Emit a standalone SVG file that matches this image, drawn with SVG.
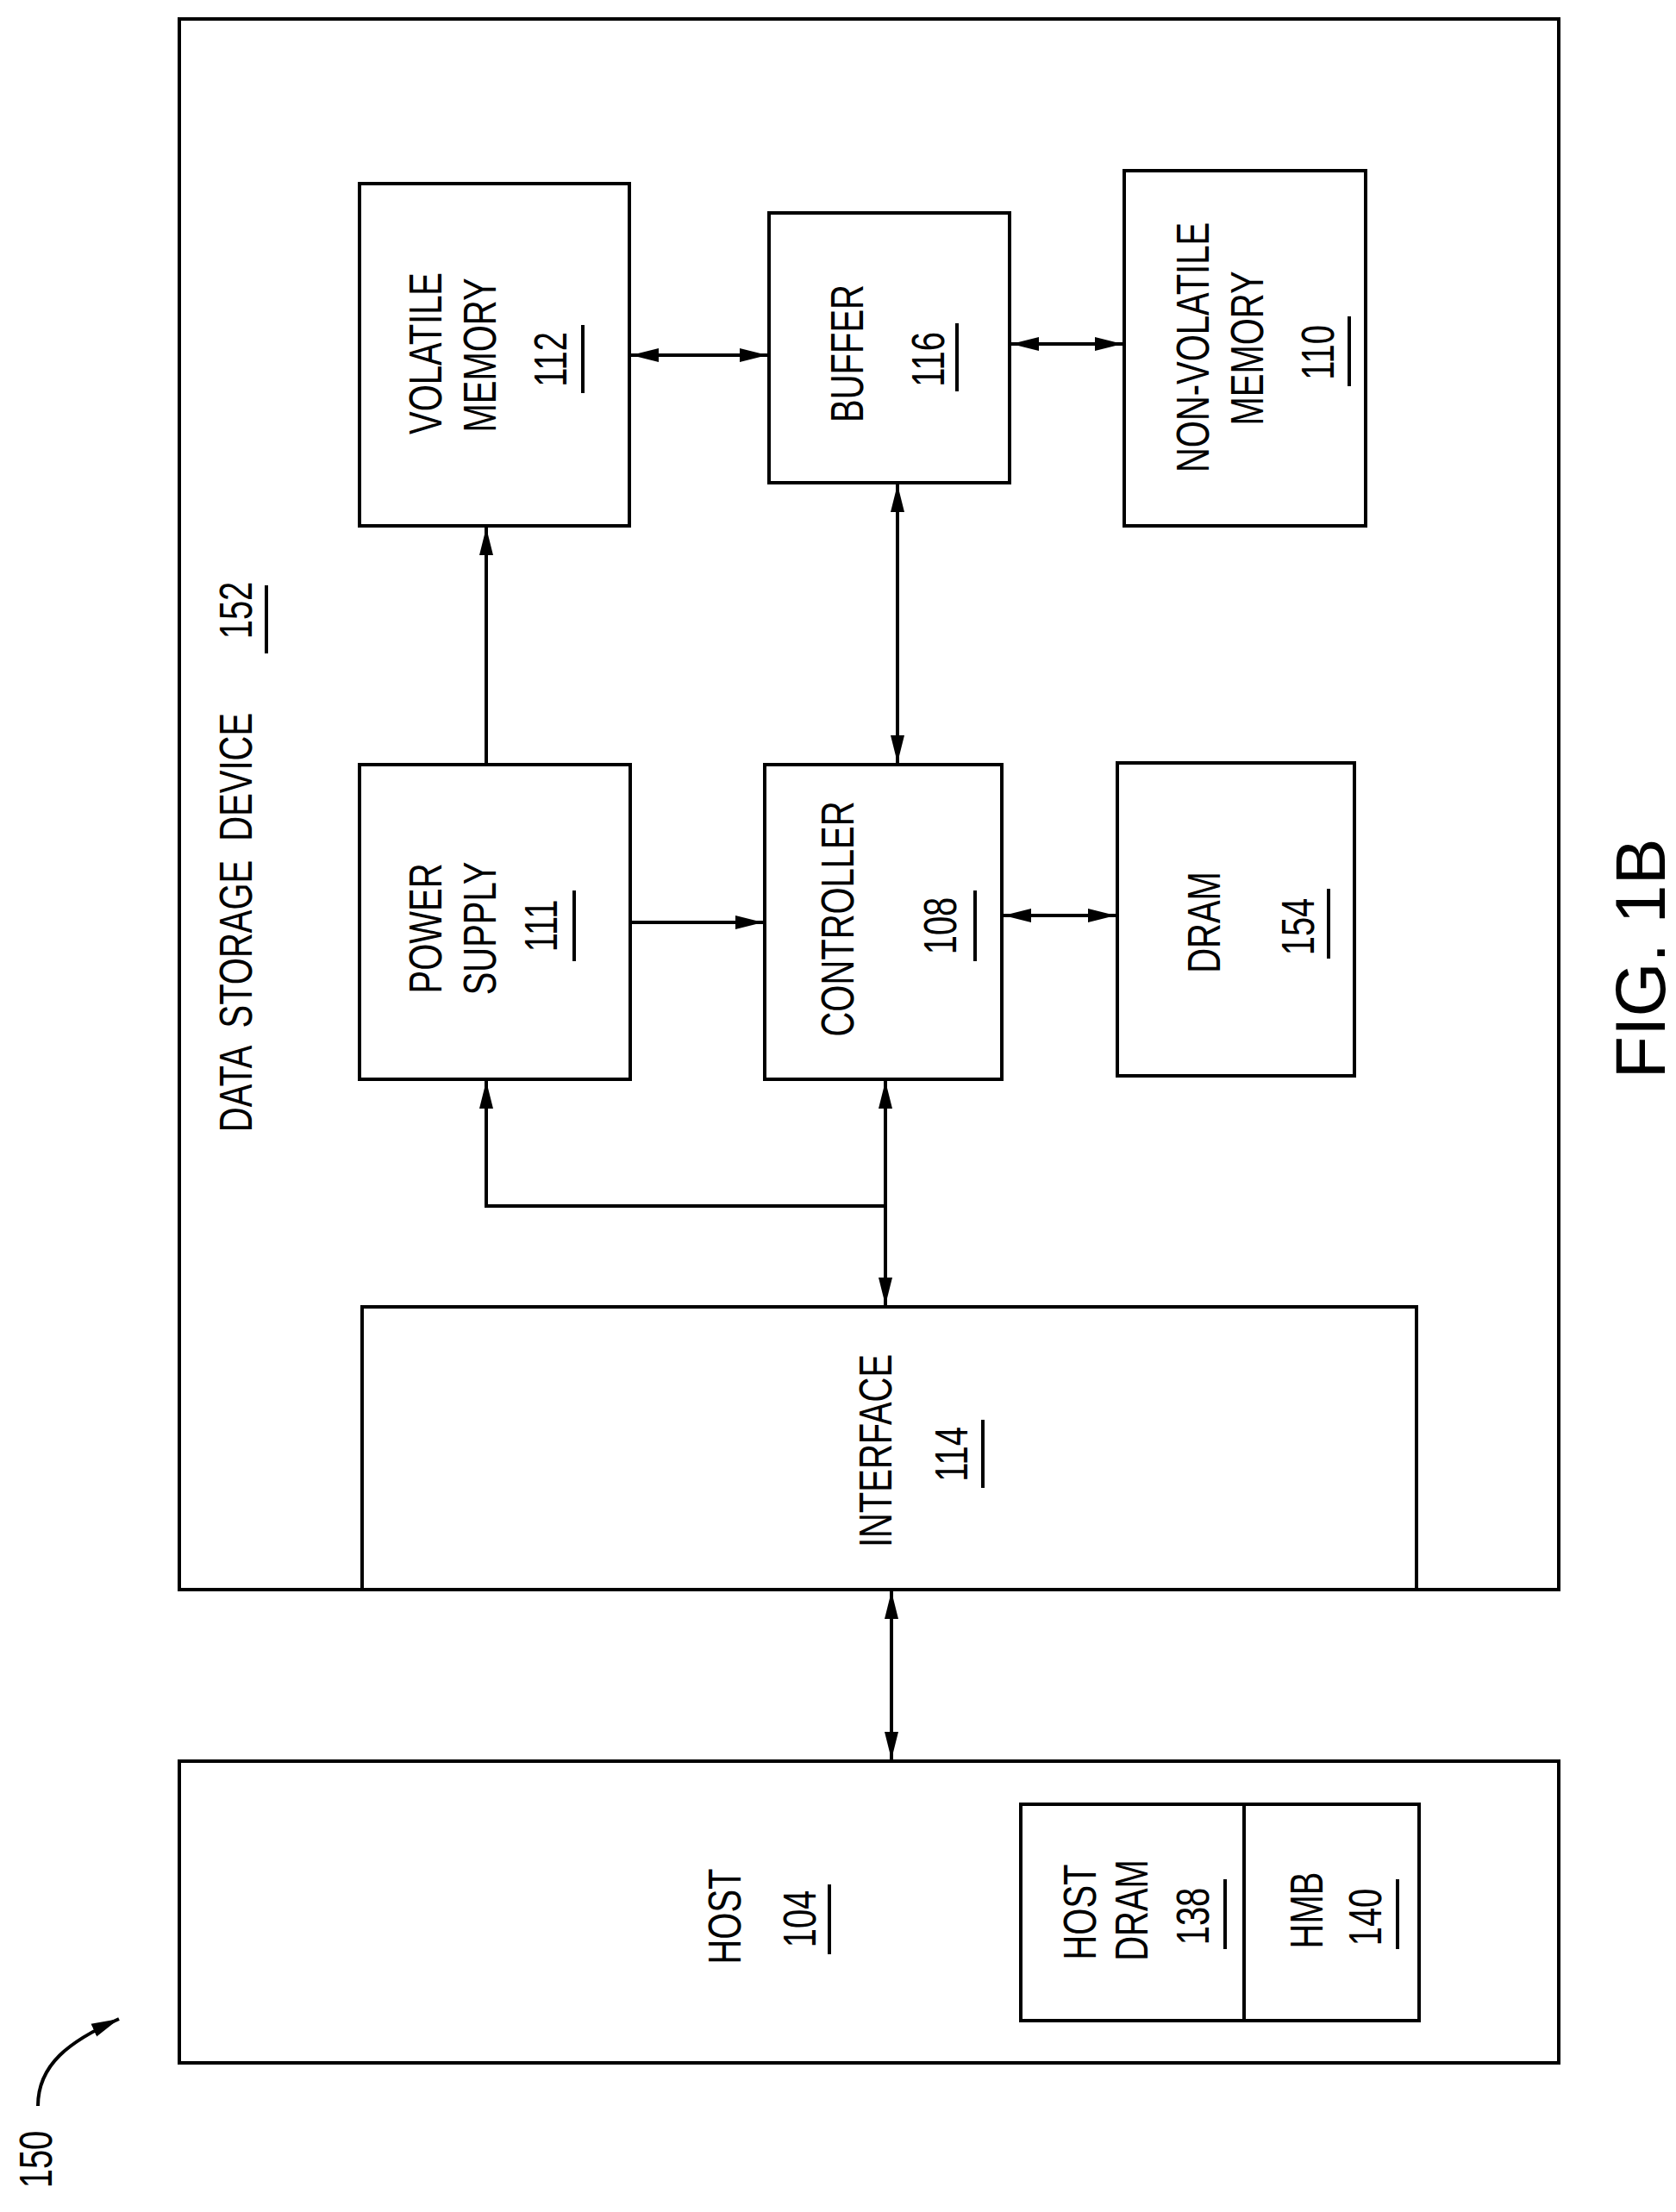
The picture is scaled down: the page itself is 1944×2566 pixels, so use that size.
<svg xmlns="http://www.w3.org/2000/svg" width="1944" height="2566" viewBox="0 0 1944 2566">
<style>
.b{fill:none;stroke:#000;stroke-width:4}
.c{fill:none;stroke:#000;stroke-width:4}
.t{font-family:"Liberation Sans",Arial,sans-serif;font-size:54px;text-anchor:middle;fill:#000}
.u{stroke:#000;stroke-width:4}
</style>
<defs>
<marker id="a" markerUnits="userSpaceOnUse" markerWidth="34" markerHeight="20" refX="32" refY="10" orient="auto-start-reverse" viewBox="0 0 34 20"><path d="M0 2 L32 10 L0 18 Z" fill="#000"/></marker>
</defs>
<rect width="1944" height="2566" fill="#fff"/>
<g id="device"><rect class="b" x="208" y="22" width="1600" height="1822"/>
<text class="t" transform="translate(292,1070) rotate(-90) scale(0.74,1)" xml:space="preserve">DATA  STORAGE  DEVICE</text>
<text class="t" transform="translate(292,708) rotate(-90) scale(0.74,1)">152</text><line class="u" x1="309" y1="679" x2="309" y2="758"/></g>
<g id="volatile"><rect class="b" x="417" y="213" width="313" height="397"/>
<text class="t" transform="translate(512,410) rotate(-90) scale(0.74,1)">VOLATILE</text>
<text class="t" transform="translate(575,412) rotate(-90) scale(0.74,1)">MEMORY</text>
<text class="t" transform="translate(657,417) rotate(-90) scale(0.74,1)">112</text><line class="u" x1="676" y1="377" x2="676" y2="456"/></g>
<g id="buffer"><rect class="b" x="892" y="247" width="279" height="313"/>
<text class="t" transform="translate(1001,410) rotate(-90) scale(0.74,1)">BUFFER</text>
<text class="t" transform="translate(1095,417) rotate(-90) scale(0.74,1)">116</text><line class="u" x1="1110" y1="375" x2="1110" y2="454"/></g>
<g id="nonvolatile"><rect class="b" x="1304" y="198" width="280" height="412"/>
<text class="t" transform="translate(1402,403) rotate(-90) scale(0.74,1)">NON-VOLATILE</text>
<text class="t" transform="translate(1465,404) rotate(-90) scale(0.74,1)">MEMORY</text>
<text class="t" transform="translate(1547,409) rotate(-90) scale(0.74,1)">110</text><line class="u" x1="1565" y1="367" x2="1565" y2="448"/></g>
<g id="power"><rect class="b" x="417" y="887" width="314" height="365"/>
<text class="t" transform="translate(512,1077) rotate(-90) scale(0.74,1)">POWER</text>
<text class="t" transform="translate(575,1077) rotate(-90) scale(0.74,1)">SUPPLY</text>
<text class="t" transform="translate(646,1074) rotate(-90) scale(0.74,1)">111</text><line class="u" x1="666" y1="1033" x2="666" y2="1115"/></g>
<g id="controller"><rect class="b" x="887" y="887" width="275" height="365"/>
<text class="t" transform="translate(990,1066) rotate(-90) scale(0.74,1)">CONTROLLER</text>
<text class="t" transform="translate(1109,1074) rotate(-90) scale(0.74,1)">108</text><line class="u" x1="1131" y1="1033" x2="1131" y2="1115"/></g>
<g id="dram"><rect class="b" x="1296" y="885" width="275" height="363"/>
<text class="t" transform="translate(1415,1070) rotate(-90) scale(0.74,1)">DRAM</text>
<text class="t" transform="translate(1524,1075) rotate(-90) scale(0.74,1)">154</text><line class="u" x1="1541" y1="1031" x2="1541" y2="1112"/></g>
<g id="interface"><rect class="b" x="420" y="1516" width="1223" height="328"/>
<text class="t" transform="translate(1034,1683) rotate(-90) scale(0.74,1)">INTERFACE</text>
<text class="t" transform="translate(1122,1687) rotate(-90) scale(0.74,1)">114</text><line class="u" x1="1140" y1="1647" x2="1140" y2="1726"/></g>
<g id="host"><rect class="b" x="208" y="2043" width="1600" height="350"/>
<text class="t" transform="translate(859,2223) rotate(-90) scale(0.74,1)">HOST</text>
<text class="t" transform="translate(946,2226) rotate(-90) scale(0.74,1)">104</text><line class="u" x1="962" y1="2186" x2="962" y2="2267"/></g>
<g id="hostdram"><rect class="b" x="1184" y="2093" width="259" height="251"/>
<text class="t" transform="translate(1271,2218) rotate(-90) scale(0.74,1)">HOST</text>
<text class="t" transform="translate(1331,2216) rotate(-90) scale(0.74,1)">DRAM</text>
<text class="t" transform="translate(1402,2223) rotate(-90) scale(0.74,1)">138</text><line class="u" x1="1421" y1="2180" x2="1421" y2="2261"/></g>
<g id="hmb"><rect class="b" x="1443" y="2093" width="203" height="251"/>
<text class="t" transform="translate(1534,2216) rotate(-90) scale(0.74,1)">HMB</text>
<text class="t" transform="translate(1602,2224) rotate(-90) scale(0.74,1)">140</text><line class="u" x1="1621" y1="2180" x2="1621" y2="2261"/></g>
<g id="connectors">
<line class="c" x1="564" y1="887" x2="564" y2="612" marker-end="url(#a)"/>
<line class="c" x1="732" y1="412" x2="890" y2="412" marker-start="url(#a)" marker-end="url(#a)"/>
<line class="c" x1="1173" y1="399" x2="1302" y2="399" marker-start="url(#a)" marker-end="url(#a)"/>
<line class="c" x1="1041" y1="562" x2="1041" y2="885" marker-start="url(#a)" marker-end="url(#a)"/>
<line class="c" x1="731" y1="1070" x2="885" y2="1070" marker-end="url(#a)"/>
<line class="c" x1="1164" y1="1062" x2="1294" y2="1062" marker-start="url(#a)" marker-end="url(#a)"/>
<polyline class="c" points="564,1254 564,1399 1027,1399" marker-start="url(#a)"/>
<line class="c" x1="1027" y1="1254" x2="1027" y2="1514" marker-start="url(#a)" marker-end="url(#a)"/>
<line class="c" x1="1034" y1="1846" x2="1034" y2="2041" marker-start="url(#a)" marker-end="url(#a)"/>
<path class="c" d="M44 2443 C44 2395 80 2368 138 2342" marker-end="url(#a)"/>
</g>
<text class="t" transform="translate(60,2505) rotate(-90) scale(0.74,1)">150</text>
<text style="font-family:'Liberation Sans',Arial,sans-serif;font-size:81px;text-anchor:middle" transform="translate(1931,1112) rotate(-90)">FIG. 1B</text>
</svg>
